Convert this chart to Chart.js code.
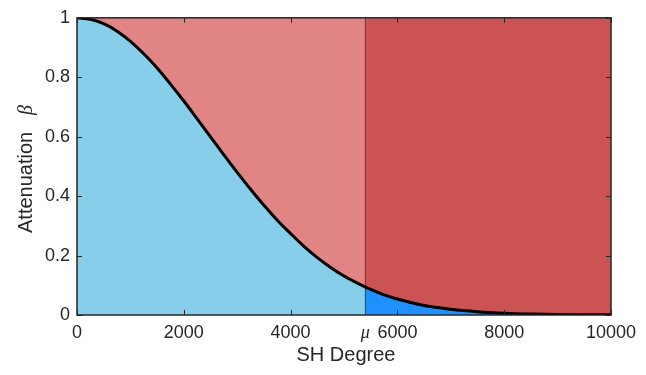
<!DOCTYPE html>
<html>
<head>
<meta charset="utf-8">
<script src="https://cdn.jsdelivr.net/npm/chart.js@4"></script>
<style>
html,body{margin:0;padding:0;background:#fff;}
canvas{display:block;}
</style>
</head>
<body>
<canvas id="c" width="646" height="375"></canvas>
<script>
// ---- data ----
const degrees = [0,250,500,750,1000,1250,1500,1750,2000,2250,2500,2750,3000,3250,3500,3750,4000,4250,4500,4750,5000,5250,5400,5500,5750,6000,6250,6500,6750,7000,7500,8000,8500,9000,9500,10000];
const attenuation = [1.000,0.995,0.980,0.955,0.921,0.879,0.831,0.777,0.720,0.660,0.599,0.539,0.480,0.423,0.369,0.319,0.274,0.231,0.193,0.160,0.131,0.107,0.094,0.086,0.068,0.054,0.042,0.032,0.025,0.019,0.011,0.006,0.0032,0.0017,0.0009,0.0005];
const mu = 5400;
const xTicks = [0,2000,4000,6000,8000,10000];
const yTicks = [0,0.2,0.4,0.6,0.8,1];
const xTickLabels = ['0','2000','4000','6000','8000','10000'];
const yTickLabels = ['0','0.2','0.4','0.6','0.8','1'];
const muLabel = 'μ';
const xTitle = 'SH Degree';
const yTitle = 'Attenuation';
const yTitleSymbol = 'β';

// ---- derived tables ----
const curve = degrees.map((d,i)=>({x:d,y:attenuation[i]}));
const leftPart = curve.filter(p=>p.x<=mu);
const rightPart = curve.filter(p=>p.x>=mu);
const xMin = xTicks[0], xMax = xTicks[xTicks.length-1];
const yMax = yTicks[yTicks.length-1];

const AX = '#262626';
const SANS = "'Liberation Sans', Arial, sans-serif";
const SERIF = "'Liberation Serif', 'Times New Roman', serif";

const framePlugin = {
  id:'frame',
  afterDatasetsDraw(chart){
    const {ctx, chartArea:a, scales:{x,y}} = chart;
    ctx.save();
    ctx.strokeStyle = AX; ctx.lineWidth = 1;
    ctx.beginPath();
    xTicks.forEach(v=>{
      const px = Math.round(x.getPixelForValue(v))+0.5;
      ctx.moveTo(px,a.bottom); ctx.lineTo(px,a.bottom-5);
      ctx.moveTo(px,a.top); ctx.lineTo(px,a.top+5);
    });
    yTicks.forEach(v=>{
      const py = Math.round(y.getPixelForValue(v))+0.5;
      ctx.moveTo(a.left,py); ctx.lineTo(a.left+5,py);
      ctx.moveTo(a.right,py); ctx.lineTo(a.right-5,py);
    });
    ctx.stroke();
    ctx.lineWidth = 1.5;
    ctx.strokeRect(a.left, a.top, a.right-a.left, a.bottom-a.top);
    ctx.restore();
  },
  afterDraw(chart){
    const {ctx, chartArea:a} = chart;
    ctx.save();
    ctx.fillStyle = AX;
    ctx.font = '20px ' + SANS;
    ctx.textAlign = 'center'; ctx.textBaseline = 'middle';
    ctx.fillText(xTitle, (a.left+a.right)/2 + 2, 355);
    // y title (rotated)
    ctx.translate(26, 0);
    ctx.rotate(-Math.PI/2);
    ctx.textAlign = 'left';
    ctx.font = '20px ' + SANS;
    ctx.fillText(yTitle, -233, 0);
    ctx.font = 'italic 20px ' + SERIF;
    const w2 = ctx.measureText(yTitleSymbol).width;
    ctx.fillText(yTitleSymbol, -105 - w2, 1);
    ctx.restore();
  }
};

const common = {pointRadius:0, pointHoverRadius:0, tension:0};

new Chart(document.getElementById('c'), {
  type:'line',
  data:{
    datasets:[
      {data:[{x:xMin,y:yMax},{x:mu,y:yMax}], fill:'origin', backgroundColor:'#E08484', borderWidth:0, order:6, ...common},
      {data:[{x:mu,y:yMax},{x:xMax,y:yMax}], fill:'origin', backgroundColor:'#CC5353', borderWidth:0, order:6, ...common},
      {data:leftPart, fill:'origin', backgroundColor:'#87CEEB', borderWidth:0, order:4, ...common, cubicInterpolationMode:'monotone'},
      {data:rightPart, fill:'origin', backgroundColor:'#1E90FF', borderWidth:0, order:4, ...common, cubicInterpolationMode:'monotone'},
      {data:[{x:mu,y:0},{x:mu,y:yMax}], fill:false, borderColor:'#5E3030', borderWidth:1, order:2, ...common},
      {data:curve, fill:false, borderColor:'#000000', borderWidth:3, order:1, ...common, cubicInterpolationMode:'monotone'}
    ]
  },
  options:{
    responsive:false, animation:false, devicePixelRatio:1,
    layout:{padding:{left:0, top:15, right:35, bottom:0}},
    plugins:{legend:{display:false}, tooltip:{enabled:false}},
    scales:{
      x:{
        type:'linear', min:xMin, max:xMax,
        grid:{display:false, drawTicks:false}, border:{display:false},
        afterFit(s){ s.height = 60; },
        afterBuildTicks(s){ s.ticks = xTicks.concat([mu]).map(v=>({value:v})); },
        ticks:{
          padding:7, color:AX, autoSkip:false, maxRotation:0,
          font:(c)=> (c.tick && c.tick.value===mu) ? {family:SERIF, size:18, style:'italic'} : {family:SANS, size:18},
          callback:(v)=> v===mu ? muLabel : xTickLabels[xTicks.indexOf(v)]
        }
      },
      y:{
        type:'linear', min:yTicks[0], max:yMax,
        grid:{display:false, drawTicks:false}, border:{display:false},
        afterFit(s){ s.width = 77; },
        afterBuildTicks(s){ s.ticks = yTicks.map(v=>({value:v})); },
        ticks:{
          padding:7, color:AX, autoSkip:false,
          font:{family:SANS, size:18},
          callback:(v)=> yTickLabels[yTicks.indexOf(v)]
        }
      }
    }
  },
  plugins:[framePlugin]
});
</script>
</body>
</html>
